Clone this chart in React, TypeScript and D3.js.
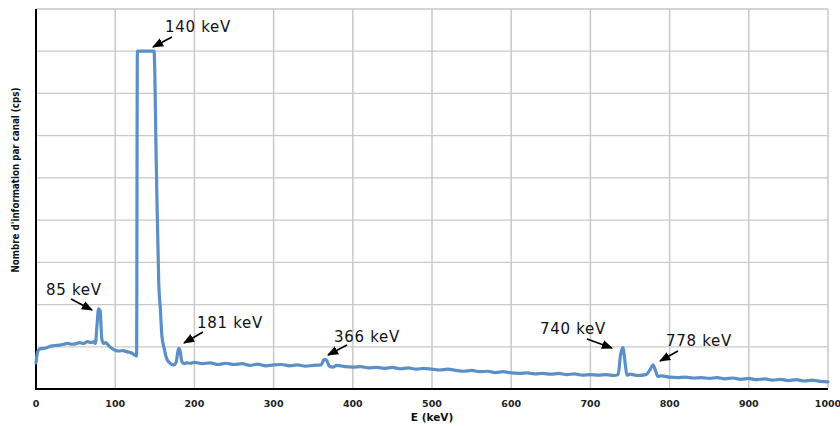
import React from "react";
import * as d3 from "d3";

const energies: number[] = [
  0, 2, 5, 10, 15, 20, 25, 30, 35, 40, 45, 50, 55, 60, 65, 70, 73, 75, 77, 79, 81, 83, 85, 88, 92, 96,
  100, 105, 110, 115, 120, 125, 127, 128, 130, 140, 149, 152, 155, 157, 159, 162, 165, 170, 174, 177,
  180, 182, 184, 187, 190, 195, 200, 210, 220, 230, 240, 250, 260, 270, 280, 290, 300, 310, 320, 330,
  340, 350, 360, 364, 367, 370, 375, 380, 390, 400, 410, 420, 430, 440, 450, 460, 470, 480, 490, 500,
  510, 520, 530, 540, 550, 560, 570, 580, 590, 600, 610, 620, 630, 640, 650, 660, 670, 680, 690, 700,
  710, 720, 730, 735, 738, 741, 744, 746, 750, 760, 770, 776, 779, 782, 785, 790, 800, 810, 820, 830,
  840, 850, 860, 870, 880, 890, 900, 910, 920, 930, 940, 950, 960, 970, 980, 990, 1000,
];

const counts: number[] = [
  62, 88, 95, 96, 99, 102, 103, 104, 106, 108, 106, 107, 110, 108, 112, 110, 112, 108, 150, 190, 185, 120, 108, 110, 102, 96,
  92, 90, 91, 88, 86, 80, 78, 800, 800, 800, 800, 520, 250, 190, 125, 95, 72, 60, 57, 64,
  96, 90, 66, 60, 62, 61, 63, 60, 62, 58, 61, 58, 60, 56, 59, 55, 57, 58, 55, 57,
  54, 56, 57, 70, 68, 55, 52, 56, 53, 52, 53, 50, 51, 49, 51, 48, 50, 47, 49, 47,
  45, 47, 44, 42, 44, 41, 42, 39, 41, 38, 37, 38, 36, 37, 35, 37, 34, 36, 33, 34,
  33, 34, 32, 34, 80, 98, 60, 33, 35, 32, 34, 48, 57, 45, 30, 31, 28, 27, 28, 26,
  27, 25, 27, 24, 26, 23, 25, 22, 24, 21, 23, 20, 22, 19, 21, 18, 17,
];

const xTicks: number[] = [0, 100, 200, 300, 400, 500, 600, 700, 800, 900, 1000];
const yGrid: number[] = [0, 100, 200, 300, 400, 500, 600, 700, 800, 900];

const peakLabels: string[] = ["85 keV", "140 keV", "181 keV", "366 keV", "740 keV", "778 keV"];
const peakEnergies: number[] = [79, 145, 181, 365, 741, 779];
const peakCounts: number[] = [190, 800, 96, 70, 98, 57];

// label text position and arrow start/end (layout only)
const labelLayout = [
  { tx: 46, ty: 295, ax: 71, ay: 299, bx: 92, by: 310 },
  { tx: 165, ty: 32, ax: 172, ay: 37, bx: 153, by: 47 },
  { tx: 197, ty: 328, ax: 203, ay: 332, bx: 184, by: 343 },
  { tx: 334, ty: 342, ax: 347, ay: 345, bx: 328, by: 355 },
  { tx: 540, ty: 334, ax: 587, ay: 339, bx: 612, by: 348 },
  { tx: 666, ty: 346, ax: 678, ay: 351, bx: 660, by: 361 },
];

export default function App() {
  const W = 840, H = 426;
  const left = 36, right = 828, top = 9, bottom = 389;
  const x = d3.scaleLinear().domain([0, 1000]).range([left, right]);
  const y = d3.scaleLinear().domain([0, 900]).range([bottom, top]);
  const pts: [number, number][] = energies.map((e, i) => [e, counts[i]]);
  const line = d3
    .line<[number, number]>()
    .x((d) => x(d[0]))
    .y((d) => y(d[1]))
    .curve(d3.curveMonotoneX);

  return (
    <svg width={W} height={H} style={{ position: "absolute", left: 0, top: 0, background: "#fff" }}>
      <defs>
        <marker id="ah" viewBox="0 0 10 10" refX="9" refY="5" markerWidth="7" markerHeight="7" orient="auto-start-reverse">
          <path d="M0,1 L10,5 L0,9 z" fill="#000" />
        </marker>
      </defs>
      {yGrid.map((v) => (
        <line key={"gy" + v} x1={left} x2={right} y1={y(v)} y2={y(v)} stroke="#c9c9c9" strokeWidth={1.3} />
      ))}
      {xTicks.map((v) => (
        <line key={"gx" + v} x1={x(v)} x2={x(v)} y1={top} y2={bottom} stroke="#c9c9c9" strokeWidth={1.5} />
      ))}
      <line x1={left} x2={left} y1={top} y2={bottom + 1} stroke="#000" strokeWidth={2} />
      <line x1={left - 1} x2={right} y1={bottom} y2={bottom} stroke="#000" strokeWidth={2} />
      <path d={line(pts) || ""} fill="none" stroke="#5b8fc7" strokeWidth={3.2} strokeLinejoin="round" strokeLinecap="round" />
      {xTicks.map((v) => (
        <text key={"tx" + v} x={x(v)} y={407} textAnchor="middle" fontFamily="DejaVu Sans" fontWeight="bold" fontSize={9.5} fill="#222">
          {v}
        </text>
      ))}
      <text x={432} y={421} textAnchor="middle" fontFamily="DejaVu Sans" fontWeight="bold" fontSize={10.5} fill="#111">
        E (keV)
      </text>
      <text
        transform={`translate(19,${(top + bottom) / 2 - 19}) rotate(-90)`}
        textAnchor="middle"
        fontFamily="DejaVu Sans Condensed, DejaVu Sans"
        fontWeight="bold"
        fontSize={10.5}
        textLength={185}
        lengthAdjust="spacingAndGlyphs"
        fill="#111"
      >
        Nombre d'information par canal (cps)
      </text>
      {peakLabels.map((lab, i) => {
        const L = labelLayout[i];
        return (
          <g key={lab} data-energy={peakEnergies[i]} data-count={peakCounts[i]}>
            <text x={L.tx} y={L.ty} fontFamily="DejaVu Sans" fontSize={15} letterSpacing={0.7} fill="#111">
              {lab}
            </text>
            <line x1={L.ax} y1={L.ay} x2={L.bx} y2={L.by} stroke="#000" strokeWidth={1.6} markerEnd="url(#ah)" />
          </g>
        );
      })}
    </svg>
  );
}
